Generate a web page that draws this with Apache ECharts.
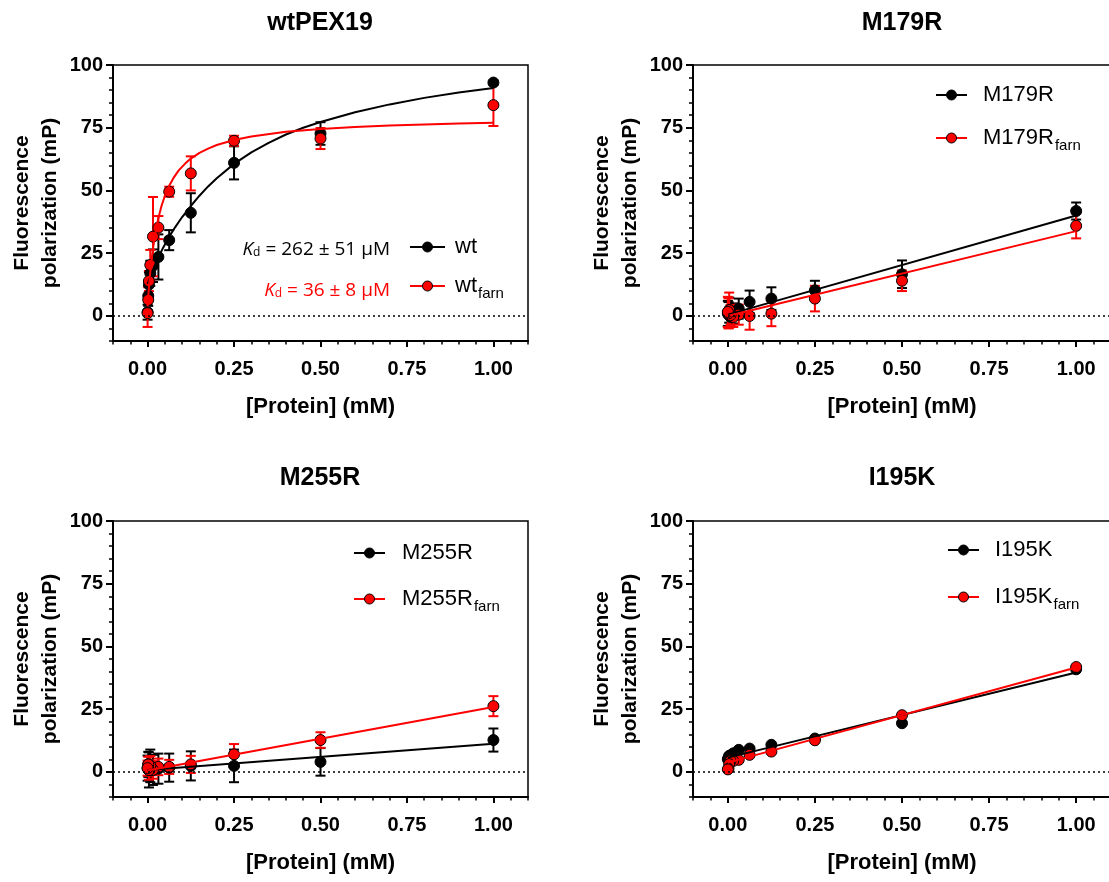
<!DOCTYPE html>
<html><head><meta charset="utf-8">
<script src="https://cdn.jsdelivr.net/npm/echarts@6/dist/echarts.min.js"></script>
<style>html,body{margin:0;padding:0;background:#fff}#c{width:1109px;height:882px}</style>
</head><body><div id="c"></div>
<script>
// ---------- DATA ----------
const conc = [1, 0.5, 0.25, 0.125, 0.0625, 0.03125, 0.015625, 0.0078125, 0.00390625, 0.001953, 0];
const xTickValues = [0, 0.25, 0.5, 0.75, 1];
const yTickValues = [0, 25, 50, 75, 100];
const panelTitles = ['wtPEX19', 'M179R', 'M255R', 'I195K'];
const blackNames = ['wt', 'M179R', 'M255R', 'I195K'];
const redNames = ['wt', 'M179R', 'M255R', 'I195K']; // shown with subscript "farn"
const kdTexts = [['262 ± 51 μM', '36 ± 8 μM']];

const wtMean      = [93.0, 72.7, 61.0, 41.1, 30.2, 23.5, 20.0, 17.0, 12.5, 8.0, 1.5];
const wtErr       = [0.8, 4.5, 6.6, 7.8, 4.0, 9.0, 6.5, 5.0, 5.0, 4.0, 3.0];
const wtFarnMean  = [84.0, 70.7, 69.8, 56.8, 49.5, 35.2, 31.6, 20.3, 13.9, 6.4, 1.1];
const wtFarnErr   = [8.3, 4.2, 2.0, 6.8, 2.0, 4.6, 15.8, 6.0, 4.0, 5.0, 5.5];

const m179rMean     = [41.8, 16.6, 10.2, 6.9, 5.6, 2.9, 1.0, -0.4, 2.3, 0.5, 1.0];
const m179rErr      = [3.4, 5.5, 3.8, 4.5, 4.5, 4.0, 4.0, 4.0, 5.0, 5.0, 5.0];
const m179rFarnMean = [35.9, 14.0, 6.9, 0.9, 0.0, 0.5, -0.4, 0.3, 2.3, 1.0, 1.6];
const m179rFarnErr  = [5.0, 4.1, 5.1, 5.0, 5.5, 4.0, 4.0, 4.0, 7.0, 6.0, 6.0];

const m255rMean     = [12.7, 4.0, 2.4, 2.4, 1.7, 1.3, 0.8, 2.4, 0.8, 3.0, 1.5];
const m255rErr      = [4.6, 5.5, 6.5, 5.8, 5.6, 6.0, 6.0, 6.5, 7.0, 5.0, 5.0];
const m255rFarnMean = [26.2, 12.7, 7.0, 3.0, 2.0, 2.0, 0.8, 2.5, 0.7, 3.0, 1.5];
const m255rFarnErr  = [4.0, 3.1, 4.1, 3.4, 2.8, 3.3, 3.5, 3.8, 3.8, 3.0, 3.0];

const i195kMean     = [40.9, 19.4, 13.3, 10.8, 9.3, 8.8, 7.4, 6.6, 6.4, 5.7, 5.0];
const i195kErr      = [0.4, 0.4, 0.4, 0.4, 0.4, 0.4, 0.4, 0.4, 0.4, 0.4, 0.4];
const i195kFarnMean = [41.8, 22.6, 12.6, 8.1, 6.8, 4.8, 4.4, 4.4, 3.1, 1.3, 1.0];
const i195kFarnErr  = [0.4, 0.4, 0.4, 0.4, 0.4, 0.4, 0.4, 0.4, 0.4, 0.4, 0.4];

// fitted curves
const wtFitX     = [0, 0.01, 0.02, 0.03125, 0.045, 0.0625, 0.08, 0.1, 0.125, 0.15, 0.175, 0.2, 0.25, 0.3, 0.35, 0.4, 0.45, 0.5, 0.6, 0.7, 0.8, 0.9, 1.0];
const wtFitY     = [12.8, 16.4, 19.8, 23.3, 27.2, 31.6, 35.4, 39.4, 43.8, 47.9, 51.6, 54.9, 60.6, 65.2, 69.0, 72.3, 75.0, 77.3, 81.2, 84.3, 86.9, 89.0, 90.8];
const wtFarnFitX = [0, 0.0025, 0.005, 0.0075, 0.01, 0.015, 0.02, 0.025, 0.03, 0.04, 0.05, 0.0625, 0.075, 0.09, 0.11, 0.125, 0.15, 0.175, 0.2, 0.25, 0.3, 0.4, 0.5, 0.6, 0.7, 0.8, 0.9, 1.0];
const wtFarnFitY = [3.9, 8.8, 13.1, 17.0, 20.4, 26.2, 30.9, 34.9, 38.3, 43.7, 47.9, 51.9, 55.0, 58.0, 60.9, 62.7, 65.0, 66.7, 68.1, 70.1, 71.5, 73.4, 74.5, 75.3, 75.9, 76.3, 76.7, 77.0];
const lineFitX   = [0, 1];
const m179rFitY     = [0.5, 40.0];
const m179rFarnFitY = [0.0, 33.8];
const m255rFitY     = [0.8, 11.2];
const m255rFarnFitY = [0.6, 25.9];
const i195kFitY     = [5.7, 39.6];
const i195kFarnFitY = [3.7, 41.6];

// ---------- ASSEMBLY ----------
const panels = [
  {b:[wtMean, wtErr], r:[wtFarnMean, wtFarnErr], fb:[wtFitX, wtFitY], fr:[wtFarnFitX, wtFarnFitY]},
  {b:[m179rMean, m179rErr], r:[m179rFarnMean, m179rFarnErr], fb:[lineFitX, m179rFitY], fr:[lineFitX, m179rFarnFitY]},
  {b:[m255rMean, m255rErr], r:[m255rFarnMean, m255rFarnErr], fb:[lineFitX, m255rFitY], fr:[lineFitX, m255rFarnFitY]},
  {b:[i195kMean, i195kErr], r:[i195kFarnMean, i195kFarnErr], fb:[lineFitX, i195kFitY], fr:[lineFitX, i195kFarnFitY]}
];

const layout = [
  {grid:{left:113, top:65, width:415, height:276}, tx:320, ty:23, nameX:36, leg:{x1:410, x2:445, tx:455, rows:[247, 286]}},
  {grid:{left:693, top:65, width:418, height:276}, tx:902, ty:23, nameX:616, leg:{x1:936, x2:967, tx:983, rows:[95, 138]}},
  {grid:{left:113, top:521, width:415, height:276}, tx:320, ty:478, nameX:36, leg:{x1:354, x2:385, tx:402, rows:[553, 599]}},
  {grid:{left:693, top:521, width:418, height:276}, tx:902, ty:478, nameX:616, leg:{x1:948, x2:979, tx:995, rows:[550, 597]}}
];

const FONT = '"Liberation Sans", Arial, sans-serif';
const RED = '#ff0000';
const BLACK = '#000000';

function errRender(color) {
  return function (params, api) {
    const x = api.value(0), y = api.value(1), e = api.value(2);
    const t = api.coord([x, y + e]);
    const b = api.coord([x, y - e]);
    const hw = 5;
    const st = {stroke: color, lineWidth: 2};
    return {type: 'group', children: [
      {type: 'line', shape: {x1: t[0], y1: t[1], x2: b[0], y2: b[1]}, style: st},
      {type: 'line', shape: {x1: t[0] - hw, y1: t[1], x2: t[0] + hw, y2: t[1]}, style: st},
      {type: 'line', shape: {x1: b[0] - hw, y1: b[1], x2: b[0] + hw, y2: b[1]}, style: st}
    ]};
  };
}

const grids = [], xAxes = [], yAxes = [], series = [], graphics = [];

panels.forEach((p, i) => {
  const L = layout[i];
  grids.push(Object.assign({show: true, borderColor: '#000', borderWidth: 1.5, containLabel: false, outerBoundsMode: 'none'}, L.grid));
  const xi = xAxes.length, yi = yAxes.length;
  xAxes.push({
    gridIndex: i, type: 'value', min: -0.1, max: 1.1, position: 'bottom',
    axisLine: {show: true, onZero: false, lineStyle: {color: '#000', width: 2}},
    axisTick: {show: true, customValues: xTickValues, length: 6, lineStyle: {color: '#000', width: 2}},
    axisLabel: {customValues: xTickValues, formatter: v => v.toFixed(2), margin: 18, fontSize: 20, fontWeight: 'bold', fontFamily: FONT, color: '#000'},
    splitLine: {show: false},
    name: '[Protein] (mM)', nameLocation: 'middle', nameGap: 55,
    nameTextStyle: {fontSize: 22, fontWeight: 'bold', fontFamily: FONT, color: '#000'}
  });
  xAxes.push({
    gridIndex: i, type: 'value', min: -0.1, max: 1.1, interval: 0.05, position: 'bottom',
    axisLine: {show: false, onZero: false},
    axisTick: {show: true, length: 3.5, lineStyle: {color: '#000', width: 1.5}},
    axisLabel: {show: false}, splitLine: {show: false}
  });
  yAxes.push({
    gridIndex: i, type: 'value', min: -10, max: 100, position: 'left',
    axisLine: {show: true, onZero: false, lineStyle: {color: '#000', width: 2}},
    axisTick: {show: true, customValues: yTickValues, length: 7, lineStyle: {color: '#000', width: 2}},
    axisLabel: {customValues: yTickValues, margin: 10, fontSize: 20, fontWeight: 'bold', fontFamily: FONT, color: '#000'},
    splitLine: {show: false}
  });
  yAxes.push({
    gridIndex: i, type: 'value', min: -10, max: 100, interval: 5, position: 'left',
    axisLine: {show: false, onZero: false},
    axisTick: {show: true, length: 4, lineStyle: {color: '#000', width: 1.5}},
    axisLabel: {show: false}, splitLine: {show: false}
  });

  const sets = [
    {m: p.b, f: p.fb, color: BLACK, name: blackNames[i]},
    {m: p.r, f: p.fr, color: RED, name: redNames[i] + ' farn'}
  ];
  sets.forEach((s, k) => {
    const errSeries = {
      type: 'custom', xAxisIndex: xi, yAxisIndex: yi, silent: true,
      renderItem: errRender(s.color),
      data: conc.map((c, j) => [c, s.m[0][j], s.m[1][j]]),
      encode: {x: 0, y: 1}
    };
    if (k === 0) {
      errSeries.markLine = {
        silent: true, symbol: 'none', label: {show: false},
        lineStyle: {color: '#000', type: [2, 3], width: 1.5},
        data: [{yAxis: 0}]
      };
    }
    series.push(errSeries);
    series.push({
      type: 'line', name: s.name, xAxisIndex: xi, yAxisIndex: yi, silent: true,
      showSymbol: false, smooth: false,
      lineStyle: {color: s.color, width: 2},
      data: s.f[0].map((x, j) => [x, s.f[1][j]])
    });
    series.push({
      type: 'scatter', xAxisIndex: xi, yAxisIndex: yi, silent: true,
      symbol: 'circle', symbolSize: 11,
      itemStyle: {color: s.color, borderColor: '#000', borderWidth: 1, opacity: 1},
      data: conc.map((c, j) => [c, s.m[0][j]])
    });
  });

  // titles
  graphics.push({type: 'text', x: L.tx, y: L.ty, style: {
    text: panelTitles[i], font: 'bold 25px ' + FONT, fill: '#000',
    textAlign: 'center', textVerticalAlign: 'middle', align: 'center', verticalAlign: 'middle'}});
  // y-axis name
  const cy = L.grid.top + L.grid.height / 2;
  graphics.push({type: 'text', x: L.nameX, y: cy, rotation: Math.PI / 2, style: {
    text: 'Fluorescence\npolarization (mP)', font: 'bold 21px ' + FONT, fill: '#000', lineHeight: 28,
    textAlign: 'center', textVerticalAlign: 'middle', align: 'center', verticalAlign: 'middle'}});
  // legend rows
  const lg = L.leg;
  [[BLACK, '{m|' + blackNames[i] + '}'], [RED, '{m|' + redNames[i] + '}{s|farn}']].forEach((row, k) => {
    const y = lg.rows[k];
    graphics.push({type: 'line', shape: {x1: lg.x1, y1: y, x2: lg.x2, y2: y}, style: {stroke: row[0], lineWidth: 2}});
    graphics.push({type: 'circle', shape: {cx: (lg.x1 + lg.x2) / 2, cy: y, r: 5}, style: {fill: row[0], stroke: '#000', lineWidth: 1}});
    graphics.push({type: 'text', x: lg.tx, y: y, style: {
      text: row[1], fill: '#000', textAlign: 'left', textVerticalAlign: 'middle', align: 'left', verticalAlign: 'middle',
      rich: {
        m: {fontSize: 22, fontFamily: FONT, lineHeight: 26, fill: '#000', color: '#000'},
        s: {fontSize: 15, fontFamily: FONT, lineHeight: 15, padding: [16, 0, 0, 1], fill: '#000', color: '#000'}
      }}});
  });
});

// Kd annotations (panel 1)
const KDFONT = '"Open Sans", "Liberation Sans", sans-serif';
[[kdTexts[0][0], '#000', 247], [kdTexts[0][1], RED, 288]].forEach(r => {
  graphics.push({type: 'text', x: 390, y: r[2], style: {
    text: '{k|K}{d|d}{t| = ' + r[0] + '}', textAlign: 'right', textVerticalAlign: 'middle', align: 'right', verticalAlign: 'middle',
    rich: {
      k: {fontSize: 19, fontStyle: 'italic', fontFamily: KDFONT, fill: r[1], color: r[1], verticalAlign: 'bottom', lineHeight: 24},
      d: {fontSize: 12, fontFamily: KDFONT, fill: r[1], color: r[1], verticalAlign: 'bottom', lineHeight: 24, padding: [0, 0, 0, 0]},
      t: {fontSize: 19, fontFamily: KDFONT, fill: r[1], color: r[1], verticalAlign: 'bottom', lineHeight: 24}
    }}});
});

const chart = echarts.init(document.getElementById('c'), null, {renderer: 'canvas'});
chart.setOption({
  animation: false,
  backgroundColor: '#fff',
  grid: grids, xAxis: xAxes, yAxis: yAxes, series: series, graphic: graphics
});
</script>
</body></html>
